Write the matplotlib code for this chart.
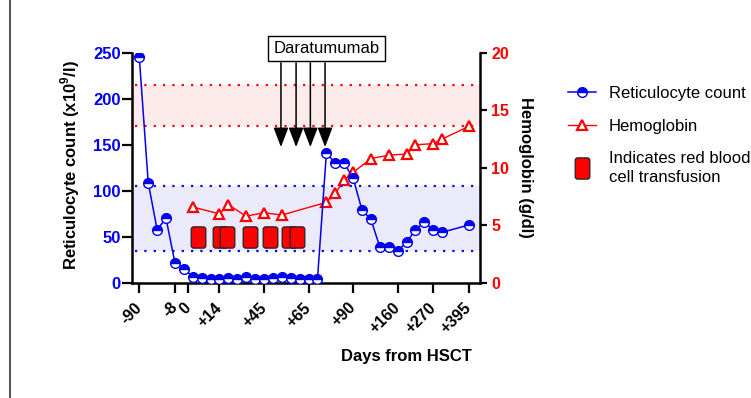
import matplotlib
matplotlib.use('Agg')
import matplotlib.pyplot as plt
from matplotlib.lines import Line2D
from matplotlib.patches import FancyBboxPatch

plt.rcParams['font.family'] = ['Liberation Sans', 'DejaVu Sans']
plt.rcParams['mathtext.fontset'] = 'custom'
plt.rcParams['mathtext.rm'] = 'Liberation Sans'
plt.rcParams['mathtext.bf'] = 'Liberation Sans:bold'

# x = sample slot (evenly spaced), tick labels give the day from HSCT
retic_x = list(range(35)) + [37]
retic = [245, 109, 58, 70, 22, 15, 7, 5, 4, 4, 5, 4, 7, 4, 4, 5, 7, 5, 4, 4, 4,
         141, 130, 130, 114, 79, 69, 39, 39, 35, 44, 58, 66, 58, 55, 63]

hb_x = [6, 9, 10, 12, 14, 16, 21, 22, 23, 24, 26, 28, 30, 31, 33, 34, 37]
hb = [6.6, 6.0, 6.8, 5.8, 6.1, 5.9, 7.0, 7.8, 8.9, 9.6, 10.8, 11.1, 11.2, 12.0,
      12.1, 12.5, 13.6]

transfusion_x = [6.6, 9.05, 9.85, 12.4, 14.65, 16.85, 17.65]
transfusion_y = [50] * len(transfusion_x)

dara_x = [15.9, 17.6, 19.2, 20.85]

tick_pos = [0, 4, 5.5, 9, 14, 19, 24, 29, 33, 37]
tick_labels = ['-90', '-8', '0', '+14', '+45', '+65', '+90', '+160', '+270', '+395']

retic_range = (35, 105)
hb_range = (13.6, 17.2)
retic_max = 250
hb_max = 20

BLUE = '#0000ee'
RED = '#ff0000'

fig = plt.figure(figsize=(7.51, 3.98), dpi=100)
ax = fig.add_axes([0.1754, 0.289, 0.4637, 0.5787])
ax2 = ax.twinx()
ax.set_zorder(2)
ax2.set_zorder(1)
ax.patch.set_visible(False)

ax.set_xlim(-0.85, 38.24)
ax.set_ylim(0, retic_max)
ax2.set_ylim(0, hb_max)

# normal ranges
scale = hb_max / retic_max
ax2.axhspan(hb_range[0], hb_range[1], color='#fdeaea', lw=0, zorder=0)
ax2.axhspan(retic_range[0] * scale, retic_range[1] * scale, color='#eaeafb', lw=0, zorder=0)
for v in hb_range:
    ax2.axhline(v, xmin=0.01, xmax=0.99, color=RED, lw=1.6, dashes=(1, 3.2), zorder=1)
for v in retic_range:
    ax.axhline(v, xmin=0.01, xmax=0.99, color=BLUE, lw=1.6, dashes=(1, 3.2), zorder=1)

# hemoglobin
hb_line, = ax2.plot(hb_x, hb, color=RED, lw=1, marker='^', ms=7.5, mfc='white',
                    mec=RED, mew=1.6, zorder=3)

# transfusion markers (rounded boxes)
box_marker = FancyBboxPatch((-0.345, -0.5), 0.69, 1.0,
                            boxstyle='round,pad=0,rounding_size=0.12').get_path()
tr_line, = ax.plot(transfusion_x, transfusion_y, ls='none', marker=box_marker, ms=15.3,
                   mfc=RED, mec='#222222', mew=0.9, zorder=2)

# reticulocytes
retic_line, = ax.plot(retic_x, retic, color=BLUE, lw=1.1, marker='o', ms=7,
                      fillstyle='top', mfc=BLUE, mfcalt='white', mec=BLUE, mew=1,
                      zorder=4)

# daratumumab
for x in dara_x:
    ax.annotate('', xy=(x, 147.5), xytext=(x, 239),
                arrowprops=dict(arrowstyle='-|>,head_length=1.2,head_width=0.46',
                                color='black', lw=1.1, shrinkA=0, shrinkB=0,
                                mutation_scale=10), annotation_clip=False, zorder=5)
ax.text(21.0, 254.5, 'Daratumumab', ha='center', va='center', fontsize=12,
        bbox=dict(boxstyle='square,pad=0.32', fc='white', ec='black', lw=1),
        clip_on=False, zorder=6)

# axes styling
for side in ['top', 'right']:
    ax.spines[side].set_visible(False)
for side in ['top', 'left', 'bottom']:
    ax2.spines[side].set_visible(False)
for sp in ['left', 'bottom']:
    ax.spines[sp].set_linewidth(1.8)
ax2.spines['right'].set_linewidth(1.8)

ax.set_xticks(tick_pos)
ax.set_xticklabels(tick_labels, rotation=45, ha='right', va='center',
                   rotation_mode='anchor', fontsize=11.5, fontweight='bold')
ax.tick_params(axis='x', length=7, width=1.6, pad=9)
ax.set_yticks(range(0, retic_max + 1, 50))
ax.tick_params(axis='y', length=7, width=1.6, pad=1, labelsize=12, labelcolor=BLUE)
for t in ax.get_yticklabels():
    t.set_fontweight('bold')
ax2.set_yticks(range(0, hb_max + 1, 5))
ax2.tick_params(axis='y', length=5, width=1.6, pad=3, labelsize=11.5, labelcolor=RED)
for t in ax2.get_yticklabels():
    t.set_fontweight('bold')

ax.set_ylabel(r'Reticulocyte count (x10$^{\mathbf{9}}$/l)', fontsize=12, fontweight='bold')
ax.yaxis.set_label_coords(-0.142, 0.51)
ax2.set_ylabel('Hemoglobin (g/dl)', fontsize=12, fontweight='bold', rotation=270, va='bottom')
ax2.yaxis.set_label_coords(1.11, 0.5)
ax.set_xlabel('Days from HSCT', fontsize=12, fontweight='bold')
ax.xaxis.set_label_coords(0.7875, -0.285)

handles = [
    Line2D([], [], color=BLUE, lw=1.1, marker='o', ms=7, fillstyle='top', mfc=BLUE,
           mfcalt='white', mec=BLUE, mew=1),
    Line2D([], [], color=RED, lw=1, marker='^', ms=7.5, mfc='white', mec=RED, mew=1.6),
    Line2D([], [], ls='none', marker=box_marker, ms=15.3, mfc=RED, mec='#222222', mew=0.9),
]
labels = ['Reticulocyte count', 'Hemoglobin', 'Indicates red blood\ncell transfusion']
leg = ax.legend(handles, labels, loc='upper left', bbox_to_anchor=(568 / 751, 1 - 86 / 398),
                bbox_transform=fig.transFigure, frameon=False, fontsize=12, handlelength=1.65,
                handletextpad=0.8, labelspacing=1.05, borderaxespad=0, borderpad=0)
leg.get_texts()[2].set_linespacing(1.35)

# frame line at the left edge
fig.add_artist(Line2D([9.5 / 751, 9.5 / 751], [0, 1], color='#333333', lw=1.2,
                      transform=fig.transFigure))

fig.savefig('out.png', dpi=100)
